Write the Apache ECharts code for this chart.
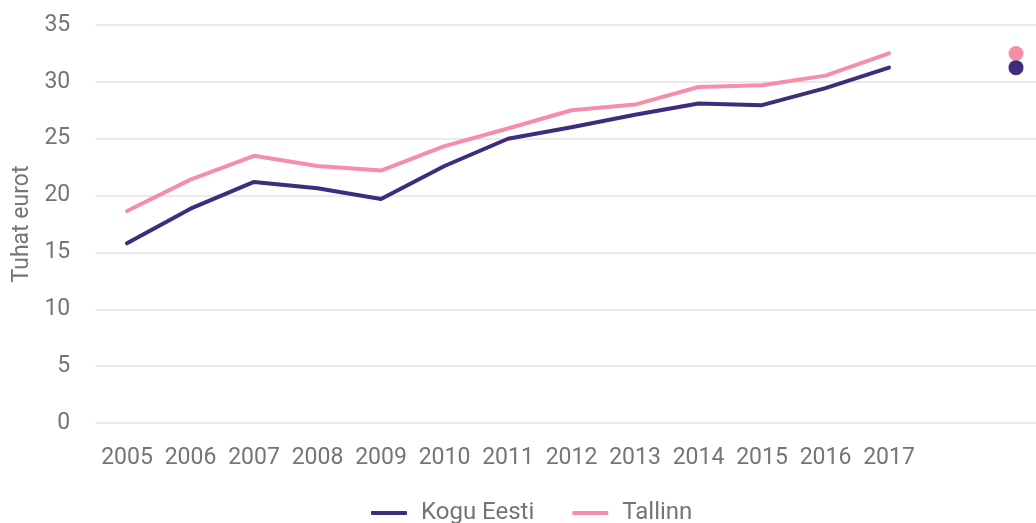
<!DOCTYPE html>
<html>
<head>
<meta charset="utf-8">
<script src="https://cdn.jsdelivr.net/npm/echarts@6/dist/echarts.min.js"></script>
<style>
  html, body { margin: 0; padding: 0; background: #fff; }
  #chart { width: 1036px; height: 523px; }
</style>
</head>
<body>
<div id="chart"></div>
<script>
// aastad, kaks viimast kohta jäetakse tühjaks (seal on ainult punktid)
var years = ['2005', '2006', '2007', '2008', '2009', '2010', '2011', '2012', '2013', '2014', '2015', '2016', '2017', '', ' '];
var koguEesti = [15.8, 18.85, 21.2, 20.65, 19.7, 22.6, 25.0, 26.0, 27.1, 28.1, 27.95, 29.45, 31.25];
var tallinn = [18.65, 21.4, 23.5, 22.6, 22.2, 24.35, 25.9, 27.5, 28.0, 29.55, 29.7, 30.55, 32.5];
// viimase aasta väärtus eraldi punktina paremal
var koguEestiDot = 31.25;
var tallinnDot = 32.5;
var dotIndex = 14;

var purple = '#3e2c7d';
var pink = '#f48ea9';
var grey = '#757575';

function dotData(v) {
  var arr = [];
  for (var i = 0; i < years.length; i++) arr.push(i === dotIndex ? v : null);
  return arr;
}

var chart = echarts.init(document.getElementById('chart'));
var option = {
  animation: false,
  textStyle: { fontFamily: 'Roboto' },
  grid: {
    left: 95.25,
    right: -11.75,
    top: 25,
    bottom: 100,
    containLabel: false,
    outerBoundsMode: 'none'
  },
  legend: {
    left: 371,
    top: 501,
    padding: 0,
    icon: 'roundRect',
    itemWidth: 36,
    itemHeight: 4,
    itemGap: 38,
    data: ['Kogu Eesti', 'Tallinn'],
    textStyle: {
      color: grey,
      fontSize: 24,
      padding: [0, 0, 0, 9]
    }
  },
  xAxis: {
    type: 'category',
    data: years,
    boundaryGap: true,
    axisLine: { show: false },
    axisTick: { show: false },
    axisLabel: {
      interval: 0,
      color: grey,
      fontSize: 23,
      margin: 24
    }
  },
  yAxis: {
    type: 'value',
    min: 0,
    max: 35,
    interval: 5,
    name: 'Tuhat eurot',
    nameLocation: 'middle',
    nameRotate: 90,
    nameGap: 61,
    nameTextStyle: { color: grey, fontSize: 23 },
    axisLine: { show: false },
    axisTick: { show: false },
    axisLabel: { color: grey, fontSize: 23, margin: 25 },
    splitLine: { lineStyle: { color: '#e3e3e3', width: 1.5 } }
  },
  series: [
    {
      name: 'Kogu Eesti',
      type: 'line',
      data: koguEesti,
      showSymbol: false,
      itemStyle: { color: purple },
      lineStyle: { color: purple, width: 4, cap: 'round', join: 'round' }
    },
    {
      name: 'Tallinn',
      type: 'line',
      data: tallinn,
      showSymbol: false,
      itemStyle: { color: pink },
      lineStyle: { color: pink, width: 4, cap: 'round', join: 'round' },
      z: 1
    },
    {
      name: 'Tallinn 2017',
      type: 'scatter',
      data: dotData(tallinnDot),
      symbolSize: 15,
      itemStyle: { color: pink, opacity: 1 },
      z: 3
    },
    {
      name: 'Kogu Eesti 2017',
      type: 'scatter',
      data: dotData(koguEestiDot),
      symbolSize: 15,
      itemStyle: { color: purple, opacity: 1 },
      z: 4
    }
  ]
};
chart.setOption(option);
</script>
</body>
</html>
